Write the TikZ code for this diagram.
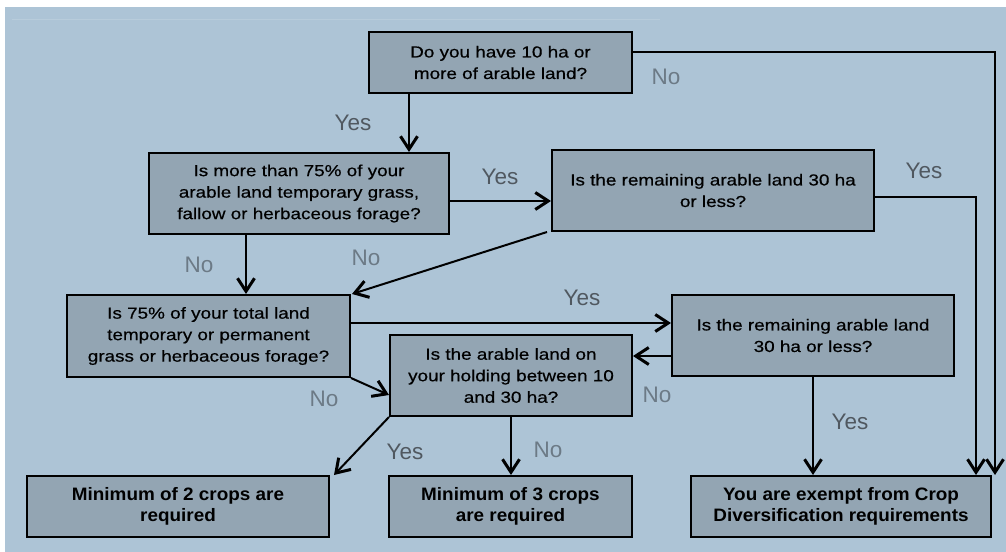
\documentclass[tikz,border=0pt]{standalone}
\usepackage{fontspec}
\setmainfont{Liberation Sans}
\newfontfamily\qfont[FakeStretch=1.18,FakeBold=0.5]{Liberation Sans}
\newfontfamily\efont[FakeStretch=1.05]{Liberation Sans}
\usetikzlibrary{arrows.meta}
\definecolor{bg}{RGB}{173,196,214}
\definecolor{bgline}{RGB}{184,204,219}
\definecolor{boxfill}{RGB}{147,165,179}
\definecolor{yescol}{RGB}{80,88,96}
\definecolor{nocol}{RGB}{108,122,134}
\tikzset{
  qbox/.style={draw=black, line width=2bp, fill=boxfill, inner sep=0pt, align=center,
    font=\qfont\fontsize{16bp}{21.5bp}\selectfont},
  ebox/.style={draw=black, line width=2bp, fill=boxfill, inner sep=0pt, align=center,
    font=\efont\bfseries\fontsize{18bp}{20.5bp}\selectfont},
  arr/.style={line width=2bp, -{Straight Barb[length=13bp,width=17bp,line width=3bp]}},
  thinarr/.style={arr, line width=1.5bp},
  ylab/.style={text=yescol, inner sep=0pt, font=\fontsize{22.5bp}{24bp}\selectfont},
  nlab/.style={text=nocol, inner sep=0pt, font=\fontsize{22.5bp}{24bp}\selectfont}
}
\begin{document}
\begin{tikzpicture}[x=1bp,y=-1bp]
\useasboundingbox (0,0) rectangle (1006,552);
\fill[white] (0,0) rectangle (1006,552);
\fill[bg] (5,7) rectangle (1006,552);
\draw[bgline, line width=0.8bp] (12,19) -- (660,19);

% boxes
\node[qbox, minimum width=263bp, minimum height=61bp] (B1) at (500.5,62.5)
  {Do you have 10 ha or\\more of arable land?};
\node[qbox, minimum width=300bp, minimum height=81bp] (B2) at (299,193.5)
  {Is more than 75\% of your\\arable land temporary grass,\\fallow or herbaceous forage?};
\node[qbox, minimum width=322bp, minimum height=81bp] (B3) at (713,190.5)
  {Is the remaining arable land 30 ha\\or less?};
\node[qbox, minimum width=283bp, minimum height=82bp] (B4) at (208.5,336)
  {Is 75\% of your total land\\temporary or permanent\\grass or herbaceous forage?};
\node[qbox, minimum width=282bp, minimum height=81bp] (B5) at (813,335.5)
  {Is the remaining arable land\\30 ha or less?};
\node[qbox, minimum width=242bp, minimum height=81bp] (B6) at (511,375.5)
  {Is the arable land on\\your holding between 10\\and 30 ha?};
\node[ebox, minimum width=302bp, minimum height=61bp] (B7) at (178,506.5)
  {Minimum of 2 crops are\\required};
\node[ebox, minimum width=243bp, minimum height=61bp] (B8) at (510.5,506.5)
  {Minimum of 3 crops\\are required};
\node[ebox, minimum width=300bp, minimum height=61bp] (B9) at (841,506.5)
  {You are exempt from Crop\\Diversification requirements};

% connectors
\draw[arr] ([yshift=10.5bp]B1.east) -| ([xshift=3bp]B9.north east);
\draw[arr] ([xshift=41bp]B1.south west) -- ([xshift=41bp]B1.south west |- B2.north);
\draw[arr] ([yshift=-7.5bp]B2.east) -- ([yshift=-7.5bp]B2.east -| B3.west);
\draw[thinarr] ([yshift=-6.5bp]B3.east) -| ([xshift=-16bp]B9.north east);
\draw[arr] ([xshift=98bp]B2.south west) -- ([xshift=98bp]B2.south west |- B4.north);
\draw[arr] ([xshift=-4bp]B3.south west) -- ([xshift=1bp]B4.north east);
\draw[arr] ([yshift=13bp]B4.east) -- ([yshift=13bp]B4.east -| B5.west);
\draw[arr] ([yshift=-20.5bp]B5.west) -- ([yshift=-20.5bp]B5.west -| B6.east);
\draw[arr] (B4.south east) -- ([yshift=-19.5bp]B6.west);
\draw[thinarr] (B5.south) -- (B5.south |- B9.north);
\draw[arr] (B6.south west) -- ([xshift=4bp]B7.north east);
\draw[thinarr] (B6.south) -- (B6.south |- B8.north);

% labels
\node[nlab] (l1) at (666,77) {No};
\node[ylab] (l2) at (353,123) {Yes};
\node[ylab] (l3) at (500,177) {Yes};
\node[ylab] (l4) at (924,171) {Yes};
\node[nlab] (l5) at (199,265) {No};
\node[nlab] (l6) at (366,258) {No};
\node[ylab] (l7) at (582,298) {Yes};
\node[nlab] (l8) at (657,395) {No};
\node[nlab] (l9) at (324,399) {No};
\node[ylab] (l10) at (850,422) {Yes};
\node[ylab] (l11) at (405,452) {Yes};
\node[nlab] (l12) at (548,450) {No};
\end{tikzpicture}
\end{document}
